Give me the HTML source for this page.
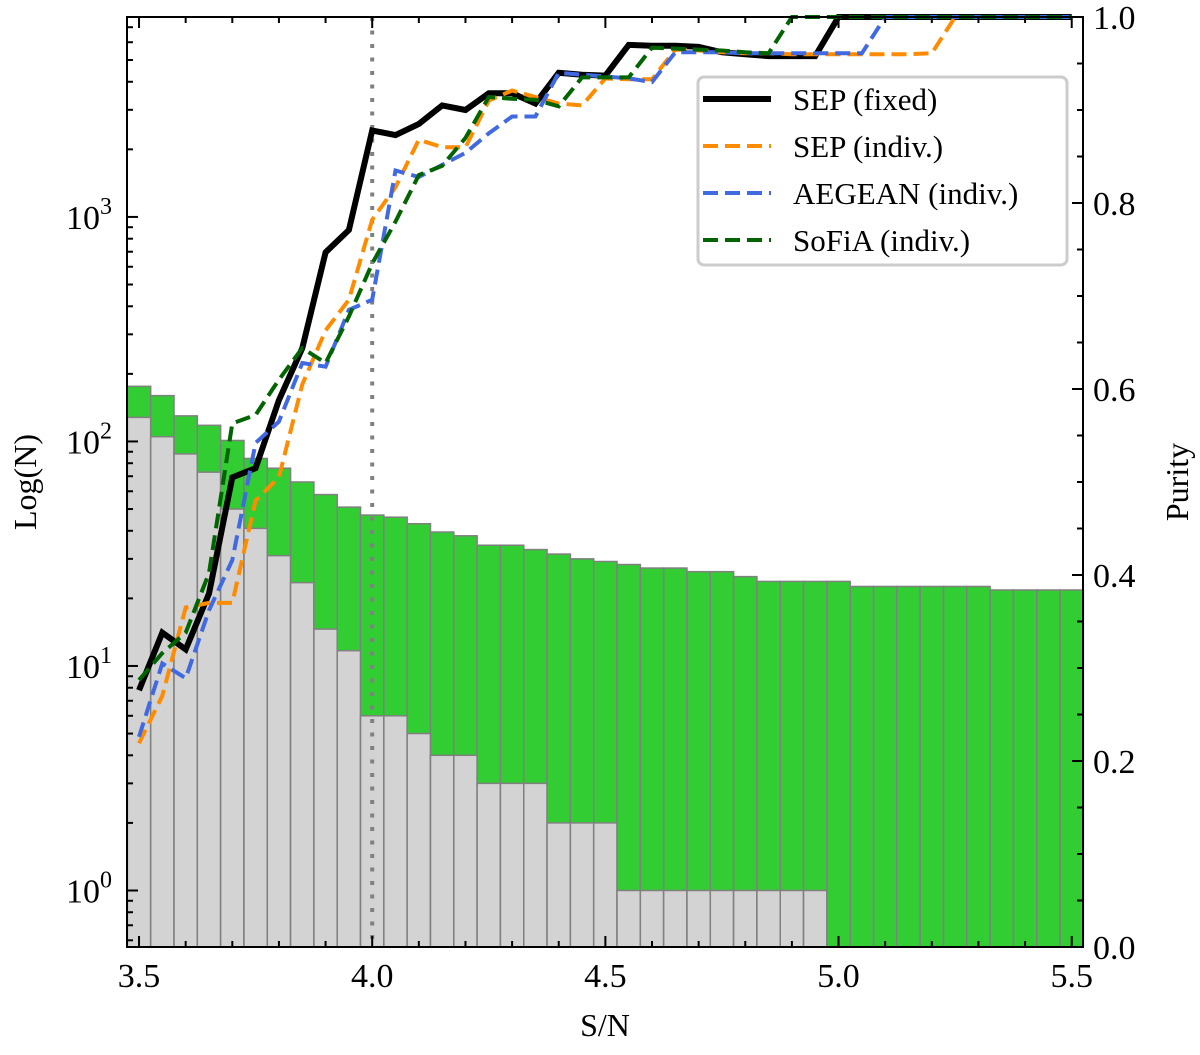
<!DOCTYPE html>
<html><head><meta charset="utf-8"><style>
html,body{margin:0;padding:0;background:#fff;}
svg text{font-family:"Liberation Serif","DejaVu Serif",serif;fill:#000;}
</style></head><body>
<svg id="chart" width="1200" height="1050" xmlns="http://www.w3.org/2000/svg">
<g id="bars"></g>
<g id="lines"></g>
<g id="axes"></g>
<g id="legend"></g>
</svg>
<script>
const binCenters=[3.50,3.55,3.60,3.65,3.70,3.75,3.80,3.85,3.90,3.95,4.00,4.05,4.10,4.15,4.20,4.25,4.30,4.35,4.40,4.45,4.50,4.55,4.60,4.65,4.70,4.75,4.80,4.85,4.90,4.95,5.00,5.05,5.10,5.15,5.20,5.25,5.30,5.35,5.40,5.45,5.50];
const totalCounts=[176,160,130,118,101,84,76,66,58,51,47,46,43,39.5,38,34.5,34.5,33,31.5,30,29.2,28.3,27.3,27.3,26.3,26.3,25,23.8,23.8,23.8,23.8,22.6,22.6,22.6,22.6,22.6,22.6,21.8,21.8,21.8,21.8];
const falseCounts=[128,105,88,73,50,41,31,23.5,14.6,11.7,6,6,5,4,4,3,3,3,2,2,2,1,1,1,1,1,1,1,1,1,0,0,0,0,0,0,0,0,0,0,0];
const purityFixed=[.276,.338,.32,.38,.505,.515,.588,.644,.747,.771,.878,.873,.885,.905,.9,.918,.918,.907,.94,.938,.937,.97,.969,.969,.968,.962,.96,.958,.958,.958,1,1,1,1,1,1,1,1,1,1,1];
const puritySepIndiv=[.219,.27,.365,.37,.37,.48,.505,.605,.663,.696,.782,.817,.868,.86,.86,.91,.921,.914,.907,.905,.934,.933,.933,.965,.964,.962,.961,.961,.96,.96,.96,.96,.96,.96,.961,1,1,1,1,1,1];
const purityAegean=[.226,.305,.289,.362,.416,.542,.565,.628,.624,.685,.696,.835,.828,.841,.854,.875,.893,.893,.94,.938,.936,.934,.93,.962,.962,.962,.961,.961,.961,.961,.961,.961,1,1,1,1,1,1,1,1,1];
const puritySofia=[.287,.316,.338,.402,.563,.572,.61,.644,.628,.678,.735,.78,.83,.84,.87,.914,.912,.911,.904,.935,.935,.935,.967,.966,.965,.964,.962,.961,1,1,1,1,1,1,1,1,1,1,1,1,1];
const xTicks=[3.5,4.0,4.5,5.0,5.5];
const xTickLabels=["3.5","4.0","4.5","5.0","5.5"];
const yTickExp=[0,1,2,3];
const pTicks=[0,0.2,0.4,0.6,0.8,1.0];
const pTickLabels=["0.0","0.2","0.4","0.6","0.8","1.0"];

const L=127,R=1083,T=17,B=947;
const XMIN=3.4742,XMAX=5.5242;
const X=v=>L+(v-XMIN)/(XMAX-XMIN)*(R-L);
const LOGMIN=-0.2517,LOGMAX=3.8905;
const Y=v=>B-(Math.log10(v)-LOGMIN)/(LOGMAX-LOGMIN)*(B-T);
const P=v=>B-v*(B-T);
const NS="http://www.w3.org/2000/svg";
function mk(tag,attrs,parent){const e=document.createElementNS(NS,tag);for(const k in attrs)e.setAttribute(k,attrs[k]);parent.appendChild(e);return e;}
const bars=document.getElementById('bars');
const bw=0.05;
binCenters.forEach((c,i)=>{
  const x0=X(c-bw/2),x1=X(c+bw/2);
  const yt=Math.max(T,Y(totalCounts[i]));
  const r=mk('rect',{x:x0,y:yt,width:x1-x0,height:B-yt,fill:'#32cd32',stroke:'#808080','stroke-width':1.5},bars);
  
  
  if(falseCounts[i]>0){
    const yf=Math.min(B,Y(falseCounts[i]));
    const g=mk('rect',{x:x0,y:yf,width:x1-x0,height:B-yf,fill:'#d3d3d3',stroke:'#808080','stroke-width':1.5},bars);
    
    
  }
});
const vl=mk('line',{x1:X(4.0),x2:X(4.0),y1:T,y2:B,stroke:'#808080','stroke-width':4,'stroke-dasharray':'4,9.5'},bars);



const lines=document.getElementById('lines');
const series=[
 {d:puritySofia,c:'#006400',w:4,dash:'15,7',n:'sofia-line'},
 {d:purityAegean,c:'#4169e1',w:4,dash:'15,7',n:'aegean-line'},
 {d:puritySepIndiv,c:'#ff8c00',w:4,dash:'15,7',n:'sep-indiv-line'},
 {d:purityFixed,c:'#000',w:6,dash:'none',n:'sep-fixed-line'}];
[3,2,1,0].forEach(k=>{const s=series[k];
  const pts=binCenters.map((c,i)=>X(c).toFixed(1)+','+P(s.d[i]).toFixed(1)).join(' ');
  const pl=mk('polyline',{points:pts,fill:'none',stroke:s.c,'stroke-width':s.w,'stroke-dasharray':s.dash,'stroke-linejoin':'miter'},lines);
  
  
});

const ax=document.getElementById('axes');
const frame=mk('rect',{x:L,y:T,width:R-L,height:B-T,fill:'none',stroke:'#000','stroke-width':2},ax);


function tick(x1,y1,x2,y2){mk('line',{x1,y1,x2,y2,stroke:'#000','stroke-width':2},ax);}
for(let v=3.5;v<=5.5001;v+=0.1){
  const x=X(v);const major=Math.abs(v*2-Math.round(v*2))<1e-6;
  const len=major?11:6;
  tick(x,B,x,B-len);tick(x,T,x,T+len);
}
xTicks.forEach((v,i)=>{const t=mk('text',{x:X(v),y:B+40,'font-size':34,'text-anchor':'middle'},ax);t.textContent=xTickLabels[i];
  
  });
for(let e=-1;e<=3;e++){for(let m=1;m<=9;m++){const v=m*Math.pow(10,e);const y=Y(v);if(y<T||y>B)continue;
  const len=m==1?11:6;tick(L,y,L+len,y);}}
yTickExp.forEach(e=>{const t=mk('text',{x:112,y:Y(Math.pow(10,e))+12,'font-size':34,'text-anchor':'end'},ax);
  
  
  t.textContent='10';
  const s=mk('tspan',{dy:-15,'font-size':24},t);s.textContent=String(e);});
for(let v=0;v<=1.0001;v+=0.05){const y=P(v);const major=Math.abs(v*5-Math.round(v*5))<1e-6;tick(R,y,R-(major?11:6),y);}
pTicks.forEach((v,i)=>{const t=mk('text',{x:1093,y:P(v)+12,'font-size':34},ax);t.textContent=pTickLabels[i];
  
  });
let t=mk('text',{x:605,y:1036,'font-size':32,'text-anchor':'middle'},ax);t.textContent='S/N';

t=mk('text',{x:0,y:0,'font-size':32,'text-anchor':'middle',transform:'translate(36,482) rotate(-90)'},ax);t.textContent='Log(N)';

t=mk('text',{x:0,y:0,'font-size':32,'text-anchor':'middle',transform:'translate(1188,482) rotate(-90)'},ax);t.textContent='Purity';


const lg=document.getElementById('legend');
const box=mk('rect',{x:698,y:77,width:369,height:188,rx:6,fill:'#fff','fill-opacity':0.85,stroke:'#cccccc','stroke-width':3},lg);

const entries=[['SEP (fixed)',3],['SEP (indiv.)',2],['AEGEAN (indiv.)',1],['SoFiA (indiv.)',0]];
entries.forEach((en,i)=>{const s=series[en[1]];const y=99+i*47;
  const l=mk('line',{x1:703,x2:771,y1:y,y2:y,stroke:s.c,'stroke-width':s.w,'stroke-dasharray':s.dash},lg);
  
  const tx=mk('text',{x:793,y:y+11,'font-size':31},lg);tx.textContent=en[0];
  
});
</script>
</body></html>
